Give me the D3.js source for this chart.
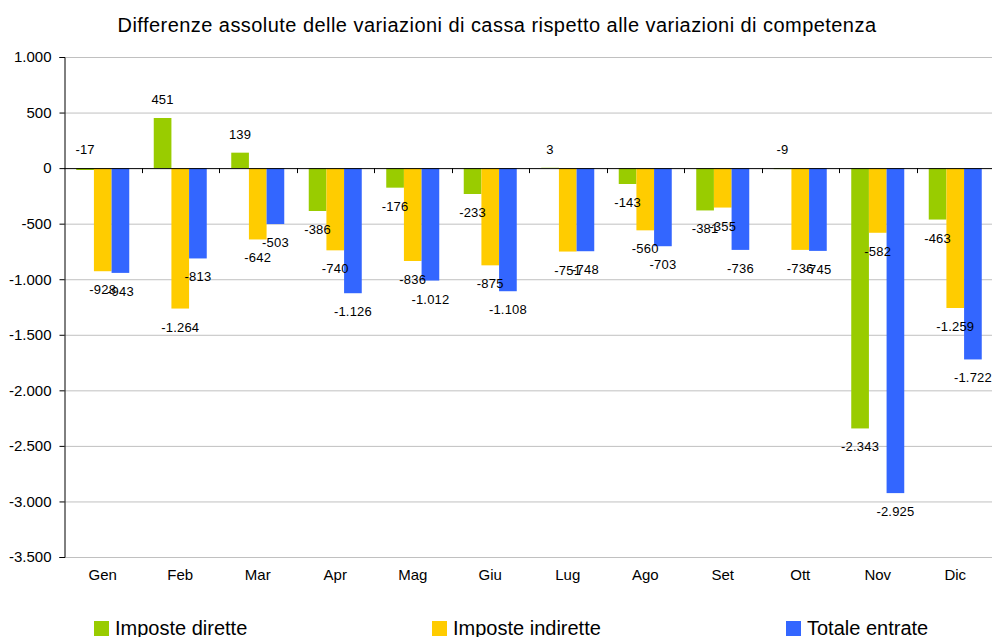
<!DOCTYPE html>
<html>
<head>
<meta charset="utf-8">
<script src="https://cdn.jsdelivr.net/npm/d3@7"></script>
<style>
  body { margin: 0; background: #fff; }
  svg { display: block; font-family: "Liberation Sans", Arial, sans-serif; }
</style>
</head>
<body>
<svg id="chart" width="992" height="637"></svg>
<script>
const months = ['Gen', 'Feb', 'Mar', 'Apr', 'Mag', 'Giu', 'Lug', 'Ago', 'Set', 'Ott', 'Nov', 'Dic'];
const seriesNames = ['Imposte dirette', 'Imposte indirette', 'Totale entrate'];
const seriesColors = ['#99CC00', '#FFCC00', '#3366FF'];
const imposteDirette = [-17, 451, 139, -386, -176, -233, 3, -143, -381, -9, -2343, -463];
const imposteIndirette = [-928, -1264, -642, -740, -836, -875, -751, -560, -355, -736, -582, -1259];
const totaleEntrate = [-943, -813, -503, -1126, -1012, -1108, -748, -703, -736, -745, -2925, -1722];
const yTicks = [1000, 500, 0, -500, -1000, -1500, -2000, -2500, -3000, -3500];
const title = 'Differenze assolute delle variazioni di cassa rispetto alle variazioni di competenza';

const seriesValues = [imposteDirette, imposteIndirette, totaleEntrate];
const it = d3.formatLocale({ decimal: ',', thousands: '.', grouping: [3], currency: ['€', ''], minus: '-' });
const fmt = it.format(',d');

const margin = { top: 57, right: -2, bottom: 80, left: 64 };
const outerWidth = 992, outerHeight = 637;
const width = outerWidth - margin.left - margin.right;
const height = outerHeight - margin.top - margin.bottom;

const svg = d3.select('#chart');

svg.append('text')
  .attr('x', 497)
  .attr('y', 32)
  .attr('text-anchor', 'middle')
  .attr('font-size', 20)
  .attr('letter-spacing', 0.45)
  .attr('fill', '#000')
  .text(title);

const x0 = d3.scaleBand().domain(months).range([0, width]).padding(0);
const groupW = 53;
const x1 = d3.scaleBand()
  .domain(d3.range(seriesNames.length))
  .range([(x0.bandwidth() - groupW) / 2, (x0.bandwidth() + groupW) / 2]);
const y = d3.scaleLinear().domain([-3500, 1000]).range([height, 0]);

const g = svg.append('g').attr('transform', `translate(${margin.left},${margin.top})`);

// gridlines
g.append('g')
  .selectAll('line')
  .data(yTicks.filter(d => d !== 0))
  .join('line')
  .attr('x1', 0)
  .attr('x2', width)
  .attr('y1', d => y(d) + 0.5)
  .attr('y2', d => y(d) + 0.5)
  .attr('stroke', '#c0c0c0')
  .attr('stroke-width', 1);

// y axis
const yAxis = g.append('g')
  .attr('transform', 'translate(0.5,0)')
  .call(d3.axisLeft(y).tickValues(yTicks).tickFormat(fmt).tickSize(5).tickPadding(8));
yAxis.select('.domain').attr('stroke', '#000');
yAxis.selectAll('.tick line').attr('stroke', '#000');
yAxis.selectAll('.tick text')
  .attr('font-size', 15)
  .attr('font-family', '"Liberation Sans", Arial, sans-serif')
  .attr('fill', '#000');

// bars
const groups = g.append('g')
  .selectAll('g')
  .data(months)
  .join('g')
  .attr('transform', d => `translate(${x0(d)},0)`);

groups.selectAll('rect')
  .data((m, i) => seriesValues.map((s, k) => ({ k, v: s[i] })))
  .join('rect')
  .attr('x', d => x1(d.k))
  .attr('width', x1.bandwidth())
  .attr('y', d => y(Math.max(0, d.v)))
  .attr('height', d => Math.abs(y(d.v) - y(0)))
  .attr('fill', d => seriesColors[d.k]);

// zero line with category ticks
g.append('line')
  .attr('x1', 0).attr('x2', width)
  .attr('y1', y(0) + 0.5).attr('y2', y(0) + 0.5)
  .attr('stroke', '#000');
g.append('g')
  .selectAll('line')
  .data(months.slice(1))
  .join('line')
  .attr('x1', d => Math.round(x0(d)) + 0.5)
  .attr('x2', d => Math.round(x0(d)) + 0.5)
  .attr('y1', y(0))
  .attr('y2', y(0) + 5)
  .attr('stroke', '#000');

// category labels
g.append('g')
  .selectAll('text')
  .data(months)
  .join('text')
  .attr('x', d => x0(d) + x0.bandwidth() / 2)
  .attr('y', height + 23)
  .attr('text-anchor', 'middle')
  .attr('font-size', 15)
  .attr('fill', '#000')
  .text(d => d);

// value labels
groups.selectAll('text.val')
  .data((m, i) => seriesValues.map((s, k) => ({ k, v: s[i] })))
  .join('text')
  .attr('class', 'val')
  .attr('x', d => x1(d.k) + x1.bandwidth() / 2)
  .attr('y', d => (d.v >= 0 || d.v > -20) ? y(Math.max(0, d.v)) - 14 : y(d.v) + 23)
  .attr('text-anchor', 'middle')
  .attr('font-size', 13)
  .attr('letter-spacing', 0.2)
  .attr('fill', '#000')
  .text(d => fmt(d.v));

// legend
const legendX = [94, 432, 786];
const legend = svg.append('g')
  .selectAll('g')
  .data(seriesNames)
  .join('g')
  .attr('transform', (d, i) => `translate(${legendX[i]},621)`);
legend.append('rect')
  .attr('width', 15)
  .attr('height', 15)
  .attr('fill', (d, i) => seriesColors[i]);
legend.append('text')
  .attr('x', 21)
  .attr('y', 14)
  .attr('font-size', 20)
  .attr('fill', '#000')
  .text(d => d);
</script>
</body>
</html>
